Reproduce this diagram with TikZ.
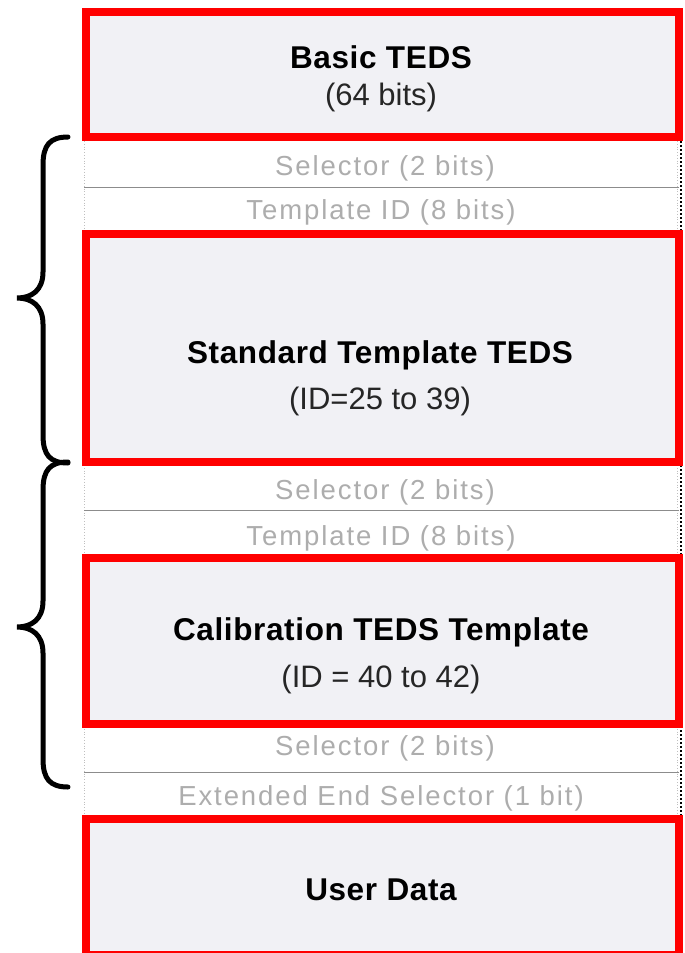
\documentclass[tikz,border=0pt]{standalone}
\usepackage{fontspec}
\setmainfont{Liberation Sans}
\begin{document}
\begin{tikzpicture}[x=1pt,y=-1pt,
  redbox/.style={draw=red,line width=8pt,fill=boxfill,minimum width=593pt,inner sep=0pt,outer sep=0pt,anchor=north west},
  rowbox/.style={draw=none,fill=white,minimum width=597pt,inner sep=0pt,outer sep=0pt,anchor=north west},
  title/.style={font=\fontsize{31.5}{36}\selectfont\bfseries\addfontfeature{LetterSpace=2},text=black,inner sep=0pt},
  sub/.style={font=\fontsize{31}{34}\selectfont,text=black!85,inner sep=0pt},
  faint/.style={font=\fontsize{27.5}{30}\selectfont\addfontfeature{LetterSpace=7},text=black!32,inner sep=0pt},
  brace/.style={line width=5pt,line cap=round,draw=black},
  divider/.style={draw=black!45,line width=0.8pt},
  sideline/.style={draw=black!25,line width=0.8pt,dotted},
  shadow/.style={draw=black,line width=2pt,dash pattern=on 2pt off 2pt}]
\definecolor{boxfill}{HTML}{F1F1F5}
\useasboundingbox (0,0) rectangle (685,953);
\fill[white] (0,0) rectangle (685,953);

% rows
\node[rowbox,minimum height=93pt] (r1) at (84,141) {};
\node[rowbox,minimum height=93pt] (r2) at (84,465) {};
\node[rowbox,minimum height=93pt] (r3) at (84,726) {};
\foreach \r in {r1,r2,r3}{
  \draw[sideline] (\r.north west) -- (\r.south west);
  \draw[sideline] ([xshift=-4pt]\r.north east) -- ([xshift=-4pt]\r.south east);
  \draw[shadow] (\r.north east) -- (\r.south east);
}
\coordinate (d1a) at (84,187); \coordinate (d1b) at (679,187);
\coordinate (d2a) at (84,510); \coordinate (d2b) at (679,510);
\coordinate (d3a) at (84,772); \coordinate (d3b) at (679,772);
\draw[divider] (d1a) -- (d1b);
\draw[divider] (d2a) -- (d2b);
\draw[divider] (d3a) -- (d3b);

% red boxes
\node[redbox,minimum height=125pt] (b1) at (86,12) {};
\node[redbox,minimum height=228pt] (b2) at (86,234) {};
\node[redbox,minimum height=166pt] (b3) at (86,558) {};
\node[redbox,minimum height=136pt] (b4) at (86,819) {};

% texts
\node[title] (t1) at (381,57) {Basic TEDS};
\node[sub] (s1) at (381,97) {(64 bits)};
\node[title] (t2) at (380,355) {Standard Template TEDS};
\node[sub] (s2) at (380,401) {(ID=25 to 39)};
\node[title] (t3) at (381,632) {Calibration TEDS Template};
\node[sub] (s3) at (381,679) {(ID = 40 to 42)};
\node[title] (t4) at (381,890) {User Data};

\node[faint] (f1) at (385,168) {Selector (2 bits)};
\node[faint] (f2) at (381,212) {Template ID (8 bits)};
\node[faint] (f3) at (385,492) {Selector (2 bits)};
\node[faint] (f4) at (381,538) {Template ID (8 bits)};
\node[faint] (f5) at (385,748) {Selector (2 bits)};
\node[faint] (f6) at (381,798) {Extended End Selector (1 bit)};

% braces
\draw[brace] (68,137) .. controls (50,137) and (43,145) .. (43,165) -- (43,272)
  .. controls (43,290) and (32,298) .. (17,298)
  .. controls (32,298) and (43,306) .. (43,324) -- (43,435)
  .. controls (43,455) and (50,463) .. (68,463);
\draw[brace] (68,462) .. controls (50,462) and (43,470) .. (43,490) -- (43,601)
  .. controls (43,619) and (32,627) .. (17,627)
  .. controls (32,627) and (43,635) .. (43,653) -- (43,759)
  .. controls (43,779) and (50,787) .. (68,787);
\end{tikzpicture}
\end{document}
